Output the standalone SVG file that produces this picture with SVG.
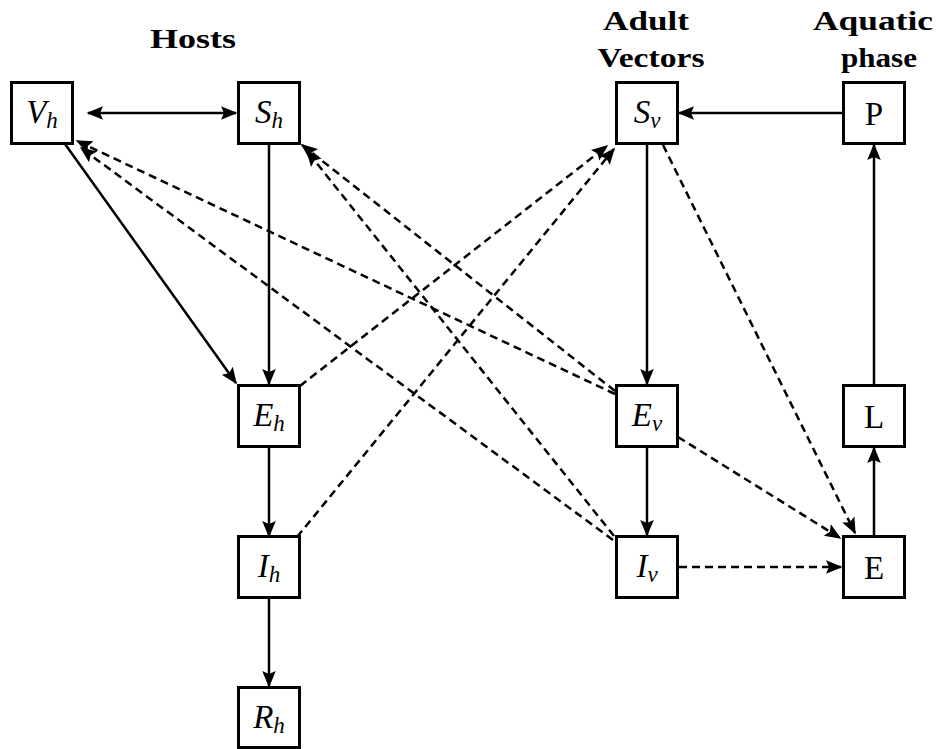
<svg xmlns="http://www.w3.org/2000/svg" width="938" height="749" viewBox="0 0 938 749">
  <style>
    .box { fill: #ffffff; stroke: #000000; stroke-width: 3; }
    .lbl { font-family: "Liberation Serif", "Times New Roman", serif; font-size: 33px; fill: #000000; text-anchor: middle; }
    .it { font-style: italic; }
    .sub { font-size: 23px; font-style: italic; }
    .head { font-family: "Liberation Serif", "Times New Roman", serif; font-size: 28px; font-weight: bold; fill: #000000; text-anchor: middle; }
    .solid { fill: none; stroke: #000000; stroke-width: 2.5; marker-end: url(#arr); }
    .dash { fill: none; stroke: #000000; stroke-width: 2.5; stroke-dasharray: 8 5; marker-end: url(#arr); }
  </style>
  <defs>
    <marker id="arr" viewBox="-17 -8 19 16" refX="0" refY="0" markerWidth="19" markerHeight="16" markerUnits="userSpaceOnUse" orient="auto-start-reverse">
      <path d="M1.5,0 L-15,-6.8 L-12,0 L-15,6.8 Z" fill="#000000"/>
    </marker>
  </defs>

  <rect width="938" height="749" fill="#ffffff"/>

  <!-- column headings -->
  <g id="headings">
    <text class="head" x="193" y="48" textLength="86" lengthAdjust="spacingAndGlyphs">Hosts</text>
    <text class="head" x="646" y="30" textLength="86" lengthAdjust="spacingAndGlyphs">Adult</text>
    <text class="head" x="651" y="67" textLength="107" lengthAdjust="spacingAndGlyphs">Vectors</text>
    <text class="head" x="873" y="30" textLength="120" lengthAdjust="spacingAndGlyphs">Aquatic</text>
    <text class="head" x="879" y="67" textLength="76" lengthAdjust="spacingAndGlyphs">phase</text>
  </g>

  <!-- connectors -->
  <g id="connectors">
    <!-- solid transitions -->
    <line class="solid" x1="88" y1="113" x2="236" y2="113" style="marker-start:url(#arr)"/>
    <line class="solid" x1="269" y1="144" x2="269" y2="384"/>
    <line class="solid" x1="65" y1="144" x2="236" y2="383"/>
    <line class="solid" x1="269" y1="447" x2="269" y2="536"/>
    <line class="solid" x1="269" y1="598" x2="269" y2="686"/>
    <line class="solid" x1="843" y1="113" x2="679" y2="113"/>
    <line class="solid" x1="647" y1="144" x2="647" y2="384"/>
    <line class="solid" x1="647" y1="447" x2="647" y2="535"/>
    <line class="solid" x1="874" y1="537" x2="874" y2="448"/>
    <line class="solid" x1="874" y1="385" x2="874" y2="145"/>
    <!-- dashed interactions -->
    <line class="dash" x1="615" y1="394" x2="77" y2="141"/>
    <line class="dash" x1="613" y1="540" x2="81" y2="148"/>
    <line class="dash" x1="615" y1="391" x2="302" y2="145"/>
    <line class="dash" x1="614" y1="536" x2="307" y2="151"/>
    <line class="dash" x1="300" y1="386" x2="607" y2="146"/>
    <line class="dash" x1="297" y1="537" x2="614" y2="149"/>
    <line class="dash" x1="663" y1="145" x2="855" y2="533"/>
    <line class="dash" x1="678" y1="437" x2="840" y2="538"/>
    <line class="dash" x1="679" y1="567" x2="841" y2="567"/>
  </g>

  <!-- hosts -->
  <g id="Vh">
    <rect class="box" x="11.5" y="82.5" width="61" height="61"/>
    <text class="lbl" x="42" y="123"><tspan class="it">V</tspan><tspan class="sub" dy="5">h</tspan></text>
  </g>
  <g id="Sh">
    <rect class="box" x="238.5" y="82.5" width="61" height="61"/>
    <text class="lbl" x="269" y="123"><tspan class="it">S</tspan><tspan class="sub" dy="5">h</tspan></text>
  </g>
  <g id="Eh">
    <rect class="box" x="238.5" y="385.5" width="61" height="61"/>
    <text class="lbl" x="269" y="426"><tspan class="it">E</tspan><tspan class="sub" dy="5">h</tspan></text>
  </g>
  <g id="Ih">
    <rect class="box" x="238.5" y="536.5" width="61" height="61"/>
    <text class="lbl" x="269" y="577"><tspan class="it">I</tspan><tspan class="sub" dy="5">h</tspan></text>
  </g>
  <g id="Rh">
    <rect class="box" x="238.5" y="687.5" width="61" height="60"/>
    <text class="lbl" x="269" y="728"><tspan class="it">R</tspan><tspan class="sub" dy="5">h</tspan></text>
  </g>

  <!-- adult vectors -->
  <g id="Sv">
    <rect class="box" x="616.5" y="82.5" width="61" height="61"/>
    <text class="lbl" x="647" y="123"><tspan class="it">S</tspan><tspan class="sub" dy="5">v</tspan></text>
  </g>
  <g id="Ev">
    <rect class="box" x="616.5" y="385.5" width="61" height="61"/>
    <text class="lbl" x="647" y="426"><tspan class="it">E</tspan><tspan class="sub" dy="5">v</tspan></text>
  </g>
  <g id="Iv">
    <rect class="box" x="616.5" y="536.5" width="61" height="61"/>
    <text class="lbl" x="647" y="577"><tspan class="it">I</tspan><tspan class="sub" dy="5">v</tspan></text>
  </g>

  <!-- aquatic phase -->
  <g id="P">
    <rect class="box" x="843.5" y="82.5" width="61" height="61"/>
    <text class="lbl" x="874" y="125">P</text>
  </g>
  <g id="L">
    <rect class="box" x="843.5" y="385.5" width="61" height="61"/>
    <text class="lbl" x="874" y="428">L</text>
  </g>
  <g id="E">
    <rect class="box" x="843.5" y="536.5" width="61" height="61"/>
    <text class="lbl" x="874" y="579">E</text>
  </g>
</svg>
